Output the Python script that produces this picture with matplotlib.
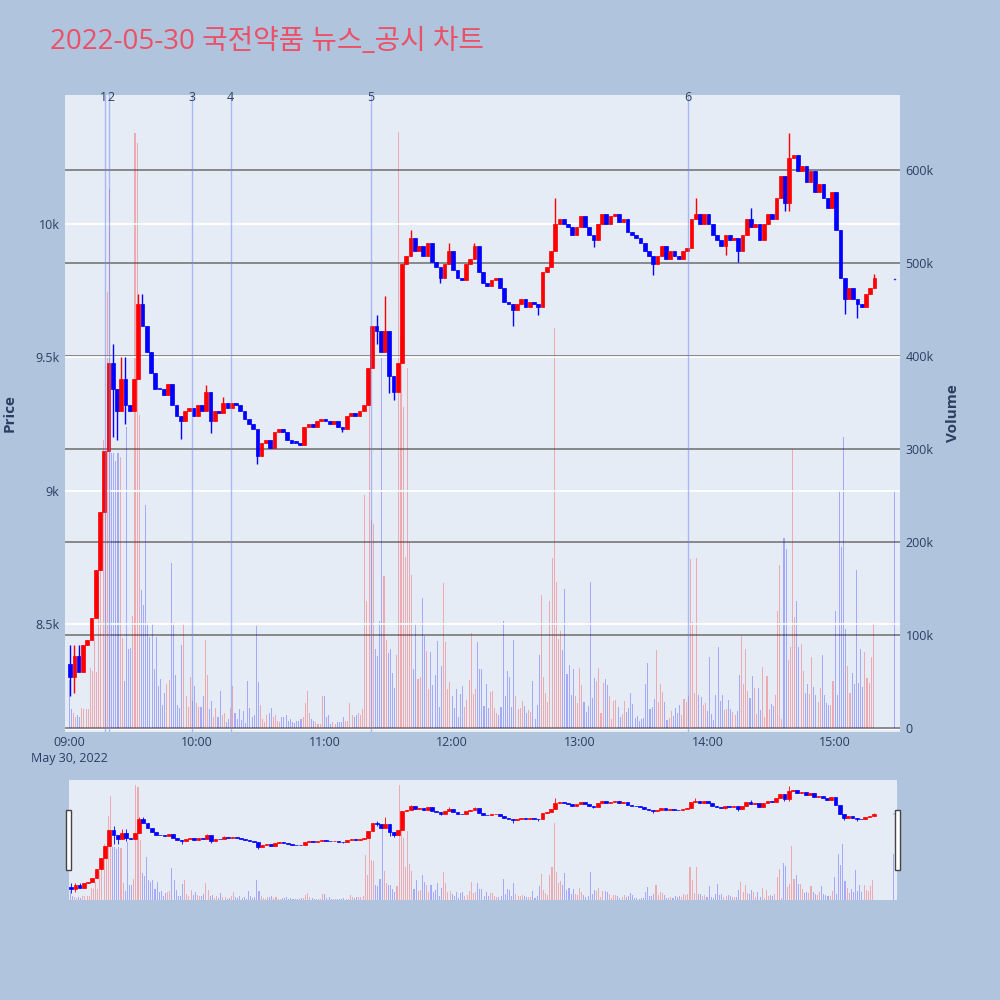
import numpy as np
import pandas as pd
import matplotlib
matplotlib.use("Agg")
import matplotlib.pyplot as plt
from matplotlib.patches import Rectangle
from matplotlib.ticker import FuncFormatter
from matplotlib.transforms import offset_copy

plt.rcParams['font.family'] = ['Open Sans', 'Noto Sans CJK KR', 'DejaVu Sans']

TITLE = "2022-05-30 국전약품 뉴스_공시 차트"
DAY = "2022-05-30"

# 2-minute candles from 09:00 (close prices, open = previous close)
open0 = 8350
close = [
    8300, 8380, 8320, 8420, 8440, 8520, 8700, 8920, 9150, 9480,
    9380, 9300, 9420, 9320, 9300, 9420, 9700, 9620, 9520, 9440,
    9380, 9380, 9360, 9400, 9320, 9280, 9260, 9300, 9310, 9280,
    9320, 9300, 9370, 9260, 9300, 9290, 9330, 9310, 9330, 9320,
    9300, 9270, 9250, 9230, 9130, 9180, 9190, 9160, 9220, 9230,
    9220, 9190, 9180, 9180, 9170, 9240, 9250, 9240, 9260, 9270,
    9260, 9250, 9260, 9240, 9230, 9280, 9290, 9280, 9300, 9320,
    9460, 9620, 9600, 9520, 9600, 9430, 9370, 9480, 9850, 9880,
    9950, 9900, 9920, 9880, 9930, 9860, 9840, 9800, 9850, 9900,
    9830, 9800, 9790, 9850, 9870, 9920, 9820, 9780, 9770, 9790,
    9800, 9760, 9710, 9700, 9680, 9700, 9720, 9690, 9710, 9700,
    9690, 9820, 9840, 9900, 10000, 10020, 10000, 9990, 9960, 9990,
    10030, 9990, 9960, 9940, 10000, 10040, 10000, 10030, 10040, 10010,
    10020, 9970, 9960, 9950, 9930, 9900, 9880, 9850, 9880, 9920,
    9870, 9900, 9880, 9870, 9900, 9910, 10020, 10040, 10000, 10040,
    10000, 9960, 9940, 9920, 9960, 9940, 9950, 9900, 9960, 10020,
    9990, 10000, 9940, 10000, 10040, 10020, 10100, 10180, 10080, 10250,
    10260, 10200, 10220, 10160, 10200, 10120, 10150, 10100, 10060, 10120,
    9980, 9800, 9720, 9760, 9720, 9700, 9690, 9740, 9760, 9800,
]
# wick extremes beyond the body (candle index -> price)
spike_hi = {0: 8420, 1: 8420, 2: 8420, 10: 9550, 12: 9500, 13: 9500, 16: 9740,
            17: 9740, 32: 9395, 36: 9350, 72: 9660, 74: 9730, 80: 9977, 89: 9930,
            95: 9930, 114: 10100, 147: 10100, 160: 10060, 169: 10345, 189: 9815}
spike_lo = {0: 8230, 1: 8240, 9: 9250, 10: 9200, 11: 9190, 13: 9250, 26: 9195,
            33: 9218, 44: 9100, 64: 9220, 70: 9390, 72: 9550, 75: 9365, 76: 9340,
            87: 9780, 104: 9620, 110: 9660, 123: 9915, 137: 9810, 154: 9885,
            157: 9860, 168: 10050, 169: 10050, 182: 9665, 185: 9650}

# 1-minute volume from 09:00, in thousands
volume_k = [
    52, 20, 16, 12, 14, 12, 21, 20, 20, 20,
    65, 61, 99, 60, 163, 196, 310, 290, 469, 580,
    296, 296, 287, 296, 291, 97, 51, 324, 85, 86,
    120, 640, 629, 336, 148, 132, 240, 112, 98, 112,
    63, 98, 45, 53, 25, 38, 47, 52, 177, 113,
    57, 25, 21, 89, 113, 34, 23, 55, 29, 45,
    27, 23, 23, 34, 95, 57, 20, 29, 12, 21,
    12, 40, 14, 16, 6, 10, 21, 45, 16, 10,
    20, 9, 18, 5, 50, 21, 12, 14, 110, 49,
    25, 10, 6, 14, 16, 21, 12, 14, 8, 6,
    12, 12, 14, 8, 10, 6, 5, 8, 8, 10,
    12, 27, 40, 16, 10, 8, 6, 4, 4, 34,
    34, 12, 14, 4, 6, 4, 6, 6, 6, 12,
    8, 8, 27, 14, 12, 14, 16, 14, 20, 250,
    137, 367, 224, 219, 85, 77, 115, 400, 163, 95,
    81, 85, 59, 43, 79, 641, 420, 345, 184, 387,
    200, 164, 63, 113, 53, 55, 140, 99, 83, 42,
    82, 46, 57, 94, 23, 67, 156, 93, 42, 49,
    34, 21, 42, 12, 37, 45, 23, 30, 52, 102,
    37, 42, 93, 63, 63, 24, 47, 21, 39, 40,
    21, 16, 14, 23, 115, 34, 61, 55, 23, 95,
    34, 20, 21, 29, 24, 16, 19, 17, 50, 10,
    25, 79, 143, 55, 38, 28, 137, 183, 430, 157,
    96, 104, 84, 149, 58, 68, 36, 63, 34, 27,
    65, 46, 28, 17, 24, 157, 32, 54, 50, 65,
    16, 48, 53, 46, 34, 10, 29, 30, 23, 12,
    15, 29, 17, 21, 38, 26, 11, 13, 7, 10,
    11, 47, 70, 20, 23, 31, 84, 28, 47, 39,
    28, 9, 11, 18, 13, 22, 16, 25, 14, 31,
    28, 34, 182, 114, 38, 183, 35, 33, 25, 27,
    18, 76, 15, 9, 35, 87, 29, 36, 19, 20,
    30, 20, 17, 14, 18, 57, 99, 47, 85, 40,
    32, 56, 43, 15, 43, 19, 66, 12, 56, 20,
    26, 24, 36, 126, 175, 10, 204, 192, 73, 87,
    300, 119, 137, 87, 90, 61, 38, 47, 37, 76,
    44, 36, 28, 43, 79, 35, 27, 25, 25, 51,
    126, 35, 256, 195, 313, 106, 67, 38, 59, 47,
    170, 48, 85, 44, 82, 54, 48, 76, 113,
]

# closing auction print
auction_time = "15:28"
auction_price = 9790
auction_vol_k = 255

# news / disclosure markers
news_times = ["09:17", "09:19", "09:58", "10:16", "11:22", "13:51"]
news_labels = ["1", "2", "3", "4", "5", "6"]

# ---- build OHLC ----
close = np.array(close, dtype=float)
opens = np.concatenate([[open0], close[:-1]])
highs = np.maximum(opens, close)
lows = np.minimum(opens, close)
for k, v in spike_hi.items():
    highs[k] = max(highs[k], v)
for k, v in spike_lo.items():
    lows[k] = min(lows[k], v)
candle_t = pd.date_range(DAY + " 09:00", periods=len(close), freq="2min") + pd.Timedelta(seconds=30)
cols = np.where(close > opens, "red", "blue")

vol = np.array(volume_k, dtype=float) * 1000
vol_t = pd.date_range(DAY + " 09:00", periods=len(vol), freq="1min")
vol_cols = [cols[i // 2] for i in range(len(vol))]
a_t = pd.Timestamp(DAY + " " + auction_time)

MIN = 1 / 1440.0
BG = "#E5ECF6"
TXT = "#2a3f5f"


def draw(axv, axp, body_w, wick_lw, vol_w, body_lw):
    axv.bar(vol_t, vol, width=vol_w * MIN, color=vol_cols, alpha=0.28, linewidth=0)
    axv.bar([a_t], [auction_vol_k * 1000], width=vol_w * MIN, color="blue", alpha=0.28, linewidth=0)
    axp.vlines(candle_t, lows, highs, colors=cols, linewidth=wick_lw)
    h = np.maximum(np.abs(close - opens), 6)
    axp.bar(candle_t, h, bottom=np.minimum(opens, close), width=body_w * MIN,
            color=cols, edgecolor=cols, linewidth=body_lw)
    axp.bar([a_t], [6], bottom=[auction_price], width=body_w * MIN * 0.5,
            color="blue", edgecolor="blue", linewidth=0.3, alpha=0.7)


fig = plt.figure(figsize=(10, 10), dpi=100)
fig.patch.set_facecolor("#B0C4DE")

# ---- main chart ----
ax_v = fig.add_axes([0.065, 0.268, 0.835, 0.637])
ax_v.set_facecolor(BG)
ax_p = ax_v.twinx()

draw(ax_v, ax_p, body_w=1.75, wick_lw=1.0, vol_w=0.5, body_lw=0.5)

x0 = pd.Timestamp(DAY + " 09:00")
ax_v.set_xlim(x0 - pd.Timedelta(minutes=1.9), x0 + pd.Timedelta(minutes=390.5))
ax_v.set_ylim(-4300, 680600)
ax_p.set_ylim(8093, 10486)

vt = [0, 100000, 200000, 300000, 400000, 500000, 600000]
ax_v.set_yticks(vt)
ax_v.yaxis.set_major_formatter(FuncFormatter(lambda v, p: "0" if v == 0 else f"{int(v / 1000)}k"))
ax_v.yaxis.tick_right()
ax_v.grid(axis="y", color="#808080", linewidth=1.3)
ax_v.set_axisbelow(True)
ax_v.axhline(0, color="white", linewidth=2, zorder=0.5)

pt = [8500, 9000, 9500, 10000]
ax_p.set_yticks(pt)
ax_p.yaxis.set_major_formatter(FuncFormatter(lambda v, p: f"{v / 1000:g}k"))
ax_p.yaxis.tick_left()
ax_p.grid(axis="y", color="white", linewidth=1.3)
ax_p.set_axisbelow(True)

hours = [x0 + pd.Timedelta(hours=h) for h in range(7)]
ax_v.set_xticks(hours)
labels = [t.strftime("%H:%M") for t in hours]
labels[0] = "09:00\nMay 30, 2022"
ax_v.set_xticklabels(labels, linespacing=1.3)
ax_v.grid(axis="x", visible=False)

for a in (ax_v, ax_p):
    for s in a.spines.values():
        s.set_visible(False)
    a.tick_params(length=0, labelcolor=TXT, labelsize=9, pad=4)
ax_v.tick_params(axis="x", pad=3)

# news markers; "1" and "2" sit side by side, nudge them apart a little
nudge = {"1": -0.9, "2": 0.9}
for t, lab in zip(news_times, news_labels):
    nt = pd.Timestamp(DAY + " " + t)
    ax_p.axvline(nt, color="#6f83f0", alpha=0.5, linewidth=1, zorder=3)
    tr = offset_copy(ax_p.get_xaxis_transform(), fig=fig, x=nudge.get(lab, 0), y=-1.5, units="points")
    ax_p.text(nt, 1.0, lab, transform=tr, ha="center", va="center", color=TXT, fontsize=9)

fig.text(0.05, 0.958, TITLE, color="#EC5066", fontsize=20, ha="left", va="center")
fig.text(0.010, 0.587, "Price", rotation=90, color=TXT, fontsize=11, fontweight="bold",
         ha="center", va="center")
fig.text(0.953, 0.587, "Volume", rotation=90, color=TXT, fontsize=11, fontweight="bold",
         ha="center", va="center")

# ---- range slider ----
sv = fig.add_axes([0.069, 0.100, 0.828, 0.120])
sv.set_facecolor(BG)
sp = sv.twinx()
draw(sv, sp, body_w=1.75, wick_lw=0.6, vol_w=0.5, body_lw=0.5)
sv.set_xlim(x0 - pd.Timedelta(minutes=0.5), x0 + pd.Timedelta(minutes=389.5))
sv.set_ylim(0, 670000)
sp.set_ylim(8090, 10465)
for a in (sv, sp):
    a.set_xticks([])
    a.set_yticks([])
    for s in a.spines.values():
        s.set_visible(False)

for hx in (0.066, 0.895):
    fig.patches.append(Rectangle((hx, 0.130), 0.0045, 0.060, transform=fig.transFigure,
                                 facecolor="white", edgecolor="#444444", linewidth=1))

fig.savefig("out.png", dpi=100, facecolor=fig.get_facecolor())
